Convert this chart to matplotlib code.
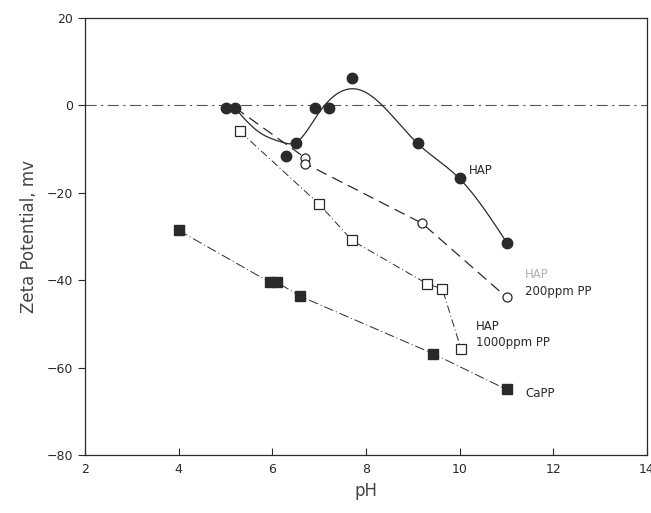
import matplotlib
matplotlib.use('Agg')
import matplotlib.pyplot as plt
import numpy as np

# HAP (filled circles)
hap_ph = [5.0, 5.2, 6.3, 6.5, 6.9, 7.2, 7.7, 9.1, 10.0, 11.0]
hap_zeta = [-0.5, -0.5, -11.6, -8.5, -0.5, -0.5, 6.2, -8.5, -16.7, -31.4]

# hand-drawn fit line through the HAP points (knots)
fit_ph = [5.2, 5.7, 6.2, 6.5, 7.0, 7.85, 9.1, 10.0, 11.0]
fit_zeta = [-0.6, -6.0, -8.4, -8.5, -1.6, 3.6, -8.7, -16.8, -31.3]

# HAP + 200ppm PP (open circles)
pp200_ph = [5.2, 6.7, 6.7, 9.2, 11.0]
pp200_zeta = [-0.5, -12.0, -13.3, -27.0, -43.9]

# HAP + 1000ppm PP (open squares)
pp1000_ph = [5.3, 7.0, 7.7, 9.3, 9.63, 10.03]
pp1000_zeta = [-5.9, -22.6, -30.9, -40.8, -42.0, -55.8]

# CaPP (filled squares)
capp_ph = [4.0, 5.95, 6.1, 6.6, 9.43, 11.0]
capp_zeta = [-28.6, -40.5, -40.5, -43.7, -56.8, -65.0]


def spline(x, y, n=300):
    # natural cubic spline, no scipy needed
    x = np.asarray(x, float)
    y = np.asarray(y, float)
    k = len(x)
    h = np.diff(x)
    A = np.zeros((k, k))
    b = np.zeros(k)
    A[0, 0] = A[-1, -1] = 1
    for i in range(1, k - 1):
        A[i, i - 1] = h[i - 1]
        A[i, i] = 2 * (h[i - 1] + h[i])
        A[i, i + 1] = h[i]
        b[i] = 6 * ((y[i + 1] - y[i]) / h[i] - (y[i] - y[i - 1]) / h[i - 1])
    m = np.linalg.solve(A, b)
    xs = np.linspace(x[0], x[-1], n)
    j = np.clip(np.searchsorted(x, xs) - 1, 0, k - 2)
    t = xs - x[j]
    hj = h[j]
    a = (m[j + 1] - m[j]) / (6 * hj)
    c = (y[j + 1] - y[j]) / hj - hj * (2 * m[j] + m[j + 1]) / 6
    ys = y[j] + c * t + m[j] / 2 * t ** 2 + a * t ** 3
    return xs, ys


ink = '#2a2a2a'
fig = plt.figure(figsize=(6.51, 5.13), dpi=100)
ax = fig.add_axes([0.1306, 0.113, 0.8633, 0.852])

ax.axhline(0, color='#555555', lw=0.8, dashes=(10, 4, 2, 4))

sx, sy = spline(fit_ph, fit_zeta)
ax.plot(sx, sy, color=ink, lw=0.9, zorder=3)

ax.plot(pp200_ph, pp200_zeta, color=ink, lw=0.9, dashes=(9, 5),
        marker='o', ms=6.5, mfc='white', mec=ink, mew=0.9, zorder=3)
ax.plot(pp1000_ph, pp1000_zeta, color=ink, lw=0.7, dashes=(8, 3, 1, 3),
        marker='s', ms=7, mfc='white', mec=ink, mew=0.9, zorder=3)
ax.plot(capp_ph, capp_zeta, color=ink, lw=0.7, dashes=(10, 3, 1, 3),
        marker='s', ms=7.5, mfc=ink, mec=ink, zorder=3)
ax.plot(hap_ph, hap_zeta, ls='none', marker='o', ms=7.5,
        mfc=ink, mec=ink, zorder=4)

fs = 8.5
ax.text(10.2, -15, 'HAP', fontsize=fs, color=ink, va='center')
ax.text(11.4, -38.6, 'HAP', fontsize=fs, color='#b0b0b0', va='center')
ax.text(11.4, -42.5, '200ppm PP', fontsize=fs, color=ink, va='center')
ax.text(10.35, -50.7, 'HAP', fontsize=fs, color=ink, va='center')
ax.text(10.35, -54.2, '1000ppm PP', fontsize=fs, color=ink, va='center')
ax.text(11.4, -66, 'CaPP', fontsize=fs, color=ink, va='center')

ax.set_xlim(2, 14)
ax.set_ylim(-80, 20)
ax.set_xticks([2, 4, 6, 8, 10, 12, 14])
ax.set_yticks([-80, -60, -40, -20, 0, 20])
ax.tick_params(axis='x', direction='in', length=5, labelsize=9, colors=ink, pad=6)
ax.tick_params(axis='y', direction='out', length=5, labelsize=9, colors=ink)
for s in ax.spines.values():
    s.set_color(ink)
    s.set_linewidth(0.9)

ax.set_xlabel('pH', fontsize=12, color='#444444')
ax.set_ylabel('Zeta Potential, mv', fontsize=12, color='#444444', labelpad=6)

plt.savefig('out.png', dpi=100)
